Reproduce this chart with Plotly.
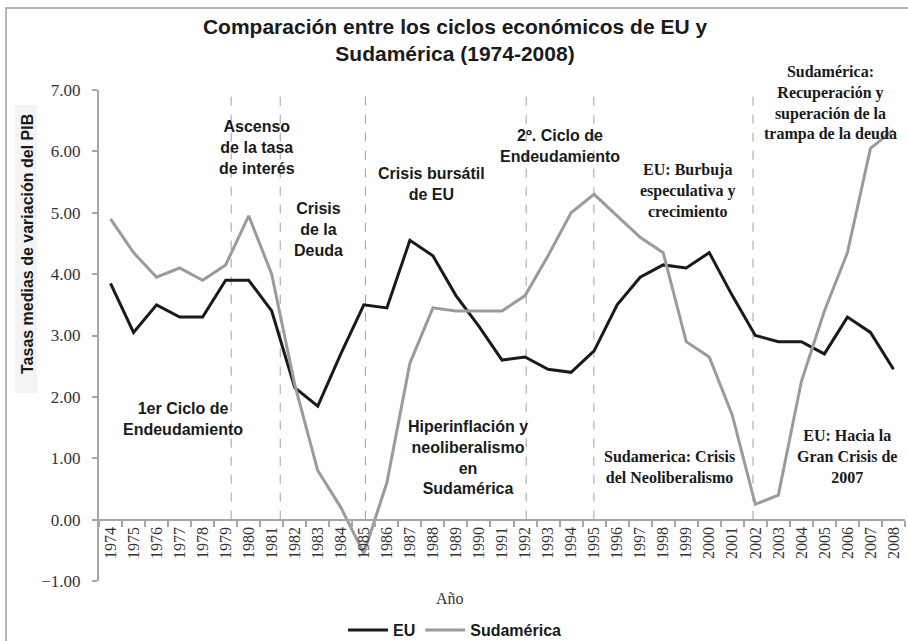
import plotly.graph_objects as go

years = [str(y) for y in range(1974, 2009)]
eu = [3.85, 3.05, 3.50, 3.30, 3.30, 3.90, 3.90, 3.40, 2.15, 1.85, 2.70, 3.50,
      3.45, 4.55, 4.30, 3.65, 3.15, 2.60, 2.65, 2.45, 2.40, 2.75, 3.50, 3.95,
      4.15, 4.10, 4.35, 3.65, 3.00, 2.90, 2.90, 2.70, 3.30, 3.05, 2.45]
sud = [4.90, 4.35, 3.95, 4.10, 3.90, 4.15, 4.95, 4.00, 2.20, 0.80, 0.20, -0.55,
       0.60, 2.55, 3.45, 3.40, 3.40, 3.40, 3.65, 4.30, 5.00, 5.30, 4.95, 4.60,
       4.35, 2.90, 2.65, 1.70, 0.25, 0.40, 2.25, 3.40, 4.35, 6.05, 6.35]

# period separators (category index positions)
separators = [5.24, 7.37, 11.07, 18.05, 20.99, 27.9]

title = "Comparación entre los ciclos económicos de EU y<br>Sudamérica (1974-2008)"
y_title = "Tasas medias de variación del PIB"
x_title = "Año"

sans_notes = [
    ("Ascenso<br>de la tasa<br>de interés", 6.37, 6.07),
    ("Crisis<br>de la<br>Deuda", 9.02, 4.72),
    ("Crisis bursátil<br>de EU", 13.93, 5.47),
    ("2º. Ciclo de<br>Endeudamiento", 19.54, 6.09),
    ("1er Ciclo de<br>Endeudamiento", 3.15, 1.64),
    ("Hiperinflación y<br>neoliberalismo<br>en<br>Sudamérica", 15.54, 1.01),
]
serif_notes = [
    ("EU: Burbuja<br>especulativa y<br>crecimiento", 25.07, 5.36),
    ("Sudamérica:<br>Recuperación y<br>superación de la<br>trampa de la deuda", 31.28, 6.79),
    ("Sudamerica: Crisis<br>del Neoliberalismo", 24.28, 0.86),
    ("EU: Hacia la<br>Gran Crisis de<br>2007", 31.98, 1.03),
]

AXIS = "#a6a6a6"
SANS = "Liberation Sans, Arial, sans-serif"
SERIF = "Liberation Serif, Times New Roman, serif"
W, H = 908, 641
L, T, R, B = 99, 90, 3, 60
PW, PH = W - L - R, H - T - B


def px_x(p):
    return (p - L) / PW


def px_y(p):
    return (H - B - p) / PH


fig = go.Figure()
fig.add_trace(go.Scatter(x=years, y=eu, mode="lines", name="EU",
                         line=dict(color="#1a1a1a", width=3)))
fig.add_trace(go.Scatter(x=years, y=sud, mode="lines", name="Sudamérica",
                         line=dict(color="#9b9b9b", width=3)))

shapes = []
# outer frame
shapes.append(dict(type="rect", xref="paper", yref="paper",
                   x0=px_x(6), x1=px_x(960), y0=px_y(700), y1=px_y(8),
                   line=dict(color="#a0a0a0", width=1.5), fillcolor="rgba(0,0,0,0)",
                   layer="below"))
# light box behind y title
shapes.append(dict(type="rect", xref="paper", yref="paper",
                   x0=px_x(15), x1=px_x(37), y0=px_y(393), y1=px_y(105),
                   line=dict(width=0), fillcolor="#f4f4f4", layer="below"))
for s in separators:
    shapes.append(dict(type="line", xref="x", yref="y", x0=s, x1=s, y0=0, y1=7,
                       line=dict(color="#a0a0a0", width=1, dash="dash"),
                       layer="below"))

annotations = []
for text, x, y in sans_notes:
    annotations.append(dict(text=text, x=x, y=y, xref="x", yref="y",
                            xanchor="center", yanchor="middle",
                            showarrow=False, align="center",
                            font=dict(family=SANS, size=16, color="#1a1a1a",
                                      weight="bold")))
for text, x, y in serif_notes:
    annotations.append(dict(text=text, x=x, y=y, xref="x", yref="y",
                            xanchor="center", yanchor="middle",
                            showarrow=False, align="center",
                            font=dict(family=SERIF, size=16, color="#1a1a1a",
                                      weight="bold")))
annotations.append(dict(text=x_title, x=px_x(450), y=px_y(598),
                        xref="paper", yref="paper", showarrow=False,
                        xanchor="center", yanchor="middle",
                        font=dict(family=SERIF, size=16, color="#333333")))
annotations.append(dict(text=y_title, x=px_x(27), y=px_y(244),
                        xref="paper", yref="paper", showarrow=False, textangle=-90,
                        xanchor="center", yanchor="middle",
                        font=dict(family=SANS, size=16, color="#1a1a1a",
                                  weight="bold")))

fig.update_layout(
    width=W, height=H,
    margin=dict(l=L, r=R, t=T, b=B, autoexpand=False),
    paper_bgcolor="white", plot_bgcolor="white",
    title=dict(text=title, x=px_x(455), xref="paper", xanchor="center",
               y=1 - 34 / H, yanchor="middle",
               font=dict(family=SANS, size=21, color="#1a1a1a", weight="bold")),
    xaxis=dict(type="category", range=[-0.5, 34.5], anchor="free", position=0.125,
               showline=True, linecolor=AXIS, linewidth=2,
               ticks="outside", ticklen=6, tickcolor=AXIS, tickwidth=1.5,
               tickson="boundaries", tickangle=-90, showgrid=False,
               tickfont=dict(family=SERIF, size=16, color="#333333")),
    yaxis=dict(range=[-1, 7], dtick=1, tickformat=".2f", showline=True,
               linecolor=AXIS, linewidth=2, ticks="outside", ticklen=5,
               tickcolor=AXIS, tickwidth=1.5, showgrid=False, zeroline=False,
               ticklabelstandoff=8,
               tickfont=dict(family=SERIF, size=17, color="#333333")),
    showlegend=True,
    legend=dict(orientation="h", x=px_x(455), xanchor="center",
                y=px_y(630), yanchor="middle",
                itemwidth=40,
                font=dict(family=SANS, size=16, color="#1a1a1a", weight="bold"),
                bgcolor="rgba(0,0,0,0)"),
    shapes=shapes,
    annotations=annotations,
)

fig.write_html("out.html", config={"displayModeBar": False},
               post_script="document.body.style.margin='0';")
